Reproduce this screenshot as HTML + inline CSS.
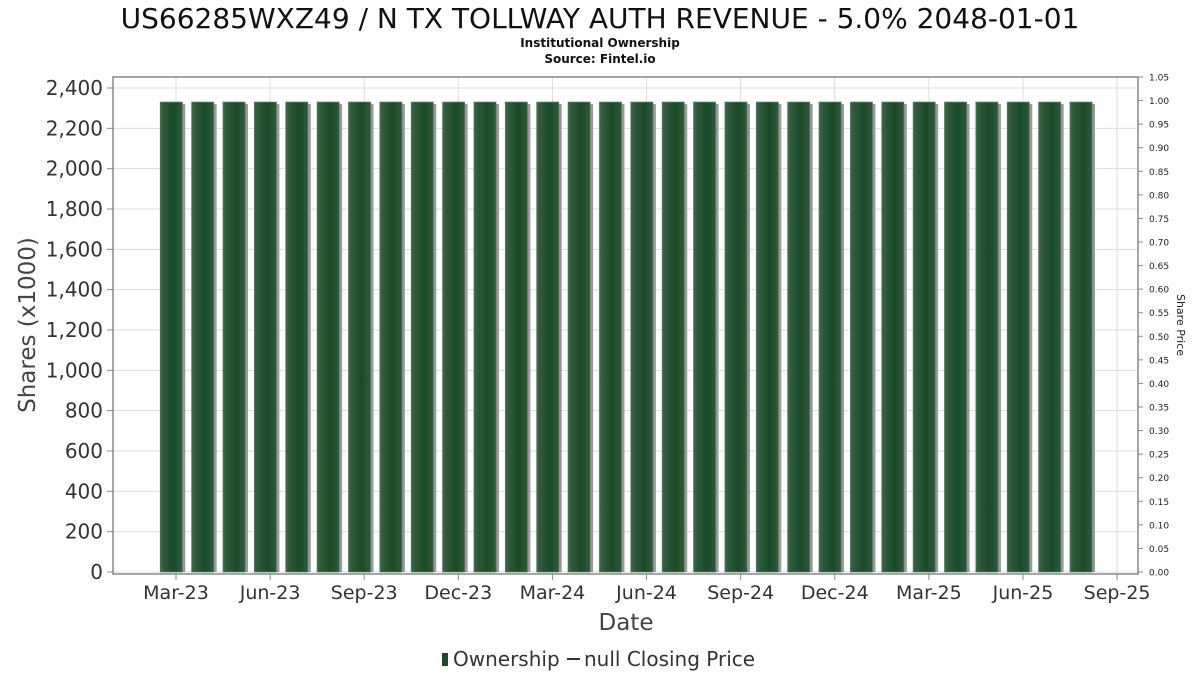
<!DOCTYPE html>
<html><head><meta charset="utf-8"><style>
body{margin:0;background:#fff;}
svg text{font-family:"DejaVu Sans","Liberation Sans",sans-serif;}
</style></head><body>
<svg id="c" width="1200" height="675" xmlns="http://www.w3.org/2000/svg">
<defs>
<linearGradient id="bg" x1="0" x2="1" y1="0" y2="0">
<stop offset="0" stop-color="#3e6a4a"/><stop offset="0.15" stop-color="#2f5a3c"/><stop offset="0.6" stop-color="#1a4a28"/><stop offset="1" stop-color="#2f5a3c"/>
</linearGradient>
</defs>
<text x="600" y="28" text-anchor="middle" font-size="28" fill="#111">US66285WXZ49 / N TX TOLLWAY AUTH REVENUE - 5.0% 2048-01-01</text>
<text x="600" y="47" text-anchor="middle" font-size="12" font-weight="bold" fill="#111">Institutional Ownership</text>
<text x="600" y="63" text-anchor="middle" font-size="12" font-weight="bold" fill="#111">Source: Fintel.io</text>
<g id="grid"></g>
<g id="bars"></g>
<rect x="113" y="77" width="1025" height="497" fill="none" stroke="#888" stroke-width="1.5"/>
<g id="axes"></g>
<text transform="translate(35,325) rotate(-90)" text-anchor="middle" font-size="23" fill="#444">Shares (x1000)</text>
<text transform="translate(1177,325) rotate(90)" text-anchor="middle" font-size="11" fill="#222">Share Price</text>
<text x="626" y="630" text-anchor="middle" font-size="23" fill="#444">Date</text>
<g>
<rect x="442" y="653" width="6" height="13" fill="#1a4a28"/>
<text x="453" y="666" font-size="20" fill="#333">Ownership</text>
<line x1="567" y1="659" x2="580" y2="659" stroke="#333" stroke-width="2"/>
<text x="584" y="666" font-size="20" fill="#333">null Closing Price</text>
</g>
</svg>
<script>
const tickLabels=["Mar-23","Jun-23","Sep-23","Dec-23","Mar-24","Jun-24","Sep-24","Dec-24","Mar-25","Jun-25","Sep-25"];
const yTicks=[0,200,400,600,800,1000,1200,1400,1600,1800,2000,2200,2400];
const priceTicks=[0,0.05,0.1,0.15,0.2,0.25,0.3,0.35,0.4,0.45,0.5,0.55,0.6,0.65,0.7,0.75,0.8,0.85,0.9,0.95,1,1.05];
const barMonths=[-0.15,0.85,1.85,2.85,3.85,4.85,5.85,6.85,7.85,8.85,9.85,10.85,11.85,12.85,13.85,14.85,15.85,16.85,17.85,18.85,19.85,20.85,21.85,22.85,23.85,24.85,25.85,26.85,27.85,28.85];
const shares=[2330,2330,2330,2330,2330,2330,2330,2330,2330,2330,2330,2330,2330,2330,2330,2330,2330,2330,2330,2330,2330,2330,2330,2330,2330,2330,2330,2330,2330,2330];
const NS="http://www.w3.org/2000/svg";
const xs=m=>176+m*31.37;
const ys=v=>572-v*(484/2400);
const yp=p=>572-p*(495/1.05);
function mk(tag,attrs,parent,txt){const e=document.createElementNS(NS,tag);for(const k in attrs)e.setAttribute(k,attrs[k]);if(txt!==undefined)e.textContent=txt;document.getElementById(parent).appendChild(e);return e;}
yTicks.forEach(v=>{
 const g=mk('line',{x1:113,x2:1138,y1:ys(v),y2:ys(v),stroke:'#ddd'},'grid');
 
 
 const t=mk('text',{x:103,y:ys(v)+7,'text-anchor':'end','font-size':20,fill:'#333'},'axes',v.toLocaleString('en-US'));
 
 
 const tk=mk('line',{x1:107,x2:113,y1:ys(v),y2:ys(v),stroke:'#888'},'axes');
 
 
});
tickLabels.forEach((l,i)=>{
 const x=xs(i*3);
 const g=mk('line',{x1:x,x2:x,y1:77,y2:574,stroke:'#ddd'},'grid');
 
 
 const tk=mk('line',{x1:x,x2:x,y1:574,y2:580,stroke:'#888'},'axes');
 
 
 const t=mk('text',{x:x,y:599,'text-anchor':'middle','font-size':19,fill:'#333'},'axes',l);
 
 
});
priceTicks.forEach(p=>{
 const tk=mk('line',{x1:1138,x2:1143,y1:yp(p),y2:yp(p),stroke:'#888'},'axes');
 
 
 const t=mk('text',{x:1149,y:yp(p)+3.5,'font-size':9,fill:'#222'},'axes',p.toFixed(2));
 
 
});
barMonths.forEach((m,i)=>{
 const cx=xs(m),top=ys(shares[i]);
 const s=mk('rect',{x:cx-11+3,y:top+2,width:22,height:572-top-2,fill:'#999'},'bars');
 
 
 const b=mk('rect',{x:cx-11,y:top,width:22,height:572-top,fill:'url(#bg)',stroke:'#4f7a5c','stroke-width':0.8},'bars');
 
 
});
</script>
</body></html>
